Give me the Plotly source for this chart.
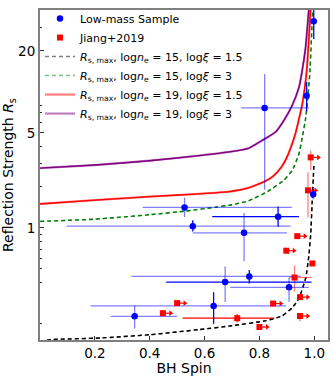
import math
import plotly.graph_objects as go

# ---------------- data ----------------
# Low-mass sample (blue)
lm_spin = [0.998, 0.972, 0.819, 0.996, 0.868, 0.527, 0.557, 0.744, 0.763, 0.675, 0.908, 0.633, 0.345]
lm_rs = [33.0, 9.36, 7.63, 1.77, 1.21, 1.416, 1.03, 0.92, 0.44, 0.40, 0.366, 0.267, 0.224]
lm_spin_lo = [0.998, 0.972, 0.733, 0.985, 0.628, 0.374, 0.097, 0.557, 0.333, 0.46, 0.694, 0.185, 0.258]
lm_spin_hi = [0.998, 0.972, 0.980, 1.000, 0.944, 0.918, 0.914, 0.900, 0.951, 0.99, 0.980, 0.897, 0.500]
lm_rs_lo = [24.5, 7.2, 1.91, 1.62, 1.02, 1.20, 0.94, 0.57, 0.39, 0.285, 0.285, 0.197, 0.182]
lm_rs_hi = [60.0, 11.8, 13.5, 1.95, 1.44, 1.67, 1.14, 1.29, 0.49, 0.52, 0.43, 0.337, 0.269]
lm_xerr_dark = [True, True, False, False, True, False, False, False, False, True, False, False, False]
lm_yerr_dark = [True, True, False, False, True, False, True, False, True, False, False, True, False]

# Jiang+2019 (red)
jg_spin = [0.987, 0.977, 0.938, 0.898, 0.993, 0.928, 0.948, 0.948, 0.850, 0.800, 0.719, 0.500, 0.448]
jg_rs = [3.30, 1.89, 0.87, 0.68, 0.548, 0.432, 0.31, 0.225, 0.278, 0.187, 0.217, 0.28, 0.236]
jg_spin_lo = [0.987, 0.977, 0.938, 0.898, 0.993, 0.908, 0.948, 0.948, 0.850, 0.800, 0.52, 0.500, 0.448]
jg_spin_hi = [0.987, 0.977, 0.938, 0.898, 0.993, 0.991, 0.948, 0.948, 0.850, 0.800, 0.853, 0.500, 0.448]
jg_rs_lo = [2.66, 1.20, 0.87, 0.68, 0.548, 0.34, 0.31, 0.205, 0.278, 0.187, 0.203, 0.28, 0.225]
jg_rs_hi = [3.70, 2.57, 0.87, 0.68, 0.548, 0.53, 0.31, 0.225, 0.278, 0.187, 0.232, 0.28, 0.25]
jg_err_dark = [False, False, False, False, False, False, False, False, False, False, True, False, False]
jg_lower_limit = [True, True, True, True, False, False, True, True, True, True, False, True, True]

# Rs,max curves
c1_spin = [0.0, 0.036, 0.218, 0.40, 0.581, 0.70, 0.824, 0.882, 0.918, 0.944, 0.969, 0.98, 0.987, 0.992, 0.9985]
c1_rs = [0.146, 0.151, 0.155, 0.164, 0.179, 0.191, 0.208, 0.225, 0.257, 0.303, 0.43, 0.62, 0.9, 1.5, 2.85]
c2_spin = [0.0, 0.2, 0.4, 0.53, 0.64, 0.7, 0.76, 0.83, 0.89, 0.92, 0.944, 0.956, 0.968, 0.974, 0.984, 0.992, 0.996]
c2_rs = [1.117, 1.16, 1.25, 1.33, 1.42, 1.48, 1.58, 1.85, 2.25, 2.65, 3.5, 4.6, 6.3, 8.0, 14.0, 32.0, 45.0]
c3_spin = [0.0, 0.2, 0.4, 0.58, 0.69, 0.76, 0.82, 0.85, 0.88, 0.90, 0.92, 0.932, 0.944, 0.956, 0.972, 0.98, 0.988]
c3_rs = [1.5, 1.6, 1.7, 1.78, 1.85, 1.97, 2.2, 2.4, 2.8, 3.3, 4.2, 5.0, 6.3, 8.1, 14.0, 24.0, 45.0]
c4_spin = [0.0, 0.2, 0.4, 0.58, 0.69, 0.76, 0.81, 0.86, 0.89, 0.92, 0.944, 0.955, 0.968, 0.98]
c4_rs = [2.75, 2.9, 3.12, 3.4, 3.62, 3.85, 4.4, 5.1, 6.2, 8.0, 10.8, 14.0, 21.0, 40.0]

curve_names = [
    "<i>R</i><sub>s, max</sub>, log<i>n</i><sub>e</sub> = 15, log<i>ξ</i> = 1.5",
    "<i>R</i><sub>s, max</sub>, log<i>n</i><sub>e</sub> = 15, log<i>ξ</i> = 3",
    "<i>R</i><sub>s, max</sub>, log<i>n</i><sub>e</sub> = 19, log<i>ξ</i> = 1.5",
    "<i>R</i><sub>s, max</sub>, log<i>n</i><sub>e</sub> = 19, log<i>ξ</i> = 3",
]

x_ticks = [0.2, 0.4, 0.6, 0.8, 1.0]
x_ticktext = ["0.2", "0.4", "0.6", "0.8", "1.0"]
y_ticks = [1, 5, 20]
y_ticktext = ["1", "5", "20"]
y_minor = [0.2, 0.4, 0.5, 0.6, 0.7, 0.8, 0.9, 2, 3, 4, 6, 7, 8, 30]

# ---------------- figure ----------------
FONT = "DejaVu Sans"
BLUE = "#0000ff"
BLUE_L = "rgba(0,0,255,0.5)"
RED = "#ff0000"
RED_L = "rgba(255,0,0,0.5)"
ARROW_LEN = 0.028

fig = go.Figure()

curve_sets = [
    (c1_spin, c1_rs, "0,0,0", "dash"),
    (c2_spin, c2_rs, "0,128,0", "dash"),
    (c3_spin, c3_rs, "255,0,0", "solid"),
    (c4_spin, c4_rs, "128,0,128", "solid"),
]
for i, (xs, ys, rgb, dash) in enumerate(curve_sets):
    d = "4px,3px" if dash == "dash" else "solid"
    fig.add_trace(go.Scatter(x=xs, y=ys, mode="lines", showlegend=False, hoverinfo="skip",
                             line=dict(color=f"rgb({rgb})", width=1.4, dash=d, shape="spline", smoothing=0.4)))
    fig.add_trace(go.Scatter(x=xs, y=ys, mode="lines", name=curve_names[i], legendrank=3 + i,
                             line=dict(color=f"rgba({rgb},0.5)", width=2.2 if dash == "solid" else 1.4,
                                       dash=d, shape="spline", smoothing=0.4)))


def err_trace(xv, yv, xlo, xhi, ylo, yhi, sel, color, axis):
    idx = [i for i in range(len(xv)) if sel[i]]
    xs = [xv[i] for i in idx]
    ys = [yv[i] for i in idx]
    kw = {}
    if axis == "x":
        kw["error_x"] = dict(type="data", symmetric=False,
                             array=[xhi[i] - xv[i] for i in idx],
                             arrayminus=[xv[i] - xlo[i] for i in idx],
                             color=color, thickness=1.3, width=0)
    else:
        kw["error_y"] = dict(type="data", symmetric=False,
                             array=[yhi[i] - yv[i] for i in idx],
                             arrayminus=[yv[i] - ylo[i] for i in idx],
                             color=color, thickness=1.3, width=0)
    return go.Scatter(x=xs, y=ys, mode="markers", showlegend=False, hoverinfo="skip",
                      marker=dict(size=1, color="rgba(0,0,0,0)"), **kw)


for dark, col in [(False, RED_L), (True, RED)]:
    sel = [d == dark for d in jg_err_dark]
    fig.add_trace(err_trace(jg_spin, jg_rs, jg_spin_lo, jg_spin_hi, jg_rs_lo, jg_rs_hi, sel, col, "x"))
    fig.add_trace(err_trace(jg_spin, jg_rs, jg_spin_lo, jg_spin_hi, jg_rs_lo, jg_rs_hi, sel, col, "y"))

ax, ay, tx, ty = [], [], [], []
for s, r, lim in zip(jg_spin, jg_rs, jg_lower_limit):
    if lim:
        ax += [s, s + ARROW_LEN, None]
        ay += [r, r, None]
        tx.append(s + ARROW_LEN)
        ty.append(r)
fig.add_trace(go.Scatter(x=ax, y=ay, mode="lines", showlegend=False, hoverinfo="skip",
                         line=dict(color=RED, width=1.2)))
fig.add_trace(go.Scatter(x=tx, y=ty, mode="markers", showlegend=False, hoverinfo="skip",
                         marker=dict(symbol="triangle-right", size=5, color=RED, line=dict(width=0))))

for dark, col in [(False, BLUE_L), (True, BLUE)]:
    selx = [d == dark for d in lm_xerr_dark]
    sely = [d == dark for d in lm_yerr_dark]
    fig.add_trace(err_trace(lm_spin, lm_rs, lm_spin_lo, lm_spin_hi, lm_rs_lo, lm_rs_hi, selx, col, "x"))
    fig.add_trace(err_trace(lm_spin, lm_rs, lm_spin_lo, lm_spin_hi, lm_rs_lo, lm_rs_hi, sely, col, "y"))

fig.add_trace(go.Scatter(x=jg_spin, y=jg_rs, mode="markers", name="Jiang+2019", legendrank=2,
                         marker=dict(symbol="square", size=6, color=RED, line=dict(width=0))))
fig.add_trace(go.Scatter(x=lm_spin, y=lm_rs, mode="markers", name="Low-mass Sample", legendrank=1,
                         marker=dict(symbol="circle", size=6.5, color=BLUE, line=dict(width=0))))

fig.update_layout(
    width=333, height=376,
    margin=dict(l=40, r=5, t=4, b=36),
    paper_bgcolor="white", plot_bgcolor="white",
    font=dict(family=FONT, size=13.5, color="black"),
    legend=dict(x=0.0, y=1.018, xanchor="left", yanchor="top", bgcolor="rgba(0,0,0,0)",
                font=dict(family=FONT, size=11, color="black"), tracegroupgap=0,
                itemwidth=30),
    xaxis=dict(range=[0, 1.05], tickvals=x_ticks, ticktext=x_ticktext, ticks="inside",
               ticklen=4, tickwidth=1, tickcolor="#333", showgrid=False, zeroline=False,
               showline=True, linecolor="#808080", linewidth=2, mirror=True,
               title=dict(text="BH Spin", font=dict(size=14), standoff=1)),
    yaxis=dict(type="log", range=[math.log10(0.15), math.log10(40)], tickvals=y_ticks,
               ticktext=y_ticktext, ticks="inside", ticklen=4, tickwidth=1, tickcolor="#333",
               minor=dict(tickvals=y_minor, ticks="inside", ticklen=2, tickwidth=1, tickcolor="#333"),
               showgrid=False, zeroline=False, showline=True, linecolor="#808080", linewidth=2,
               mirror=True,
               title=dict(text="Reflection Strength <i>R</i><sub>s</sub>", font=dict(size=14), standoff=4)),
)

fig.write_html("out.html", config={"displayModeBar": False},
               post_script="document.body.style.margin='0';")
